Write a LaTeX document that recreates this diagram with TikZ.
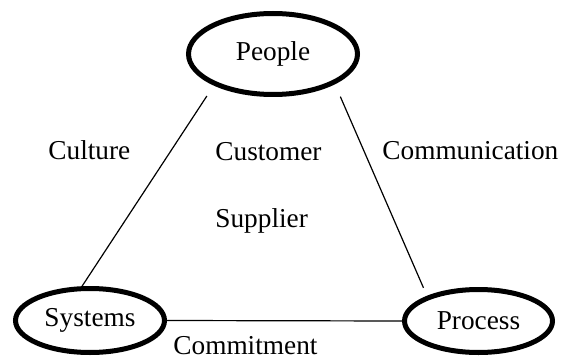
\documentclass[tikz,border=0pt]{standalone}
\usepackage{fontspec}
\setmainfont{Liberation Serif}
\usepackage{tikz}
\usetikzlibrary{shapes.geometric}

\begin{document}
\begin{tikzpicture}[x=0.5pt,y=-0.5pt]
\tikzstyle{every node}=[font=\fontsize{13.65}{16}\selectfont];
\tikzstyle{oval}=[draw,shape=ellipse,line width=2.5pt,inner sep=0pt];
\tikzstyle{tag}=[inner sep=0pt,anchor=base west];
\tikzstyle{link}=[line width=0.6pt];
\useasboundingbox (0,0) rectangle (562,358);
\node[oval,minimum width=84.5pt,minimum height=40.5pt] (people) at (273,54) {People};
\node[oval,minimum width=74.5pt,minimum height=32pt] (systems) at (90,320.5) {Systems};
\node[oval,minimum width=74pt,minimum height=31.5pt] (process) at (478.5,321) {Process};
\node[tag] (culture) at (48,160) {Culture};
\node[tag] (customer) at (215,161) {Customer};
\node[tag] (supplier) at (215,227) {Supplier};
\node[tag] (communication) at (382,160) {Communication};
\node[tag] (commitment) at (173,354) {Commitment};
\draw[link,shorten <=6.3pt] (people.208) -- (systems.103);
\draw[link,shorten <=6.8pt,shorten >=4.4pt] (people.334) -- (process.154);
\draw[link] (systems.east) -- (process.west);
\end{tikzpicture}
\end{document}
